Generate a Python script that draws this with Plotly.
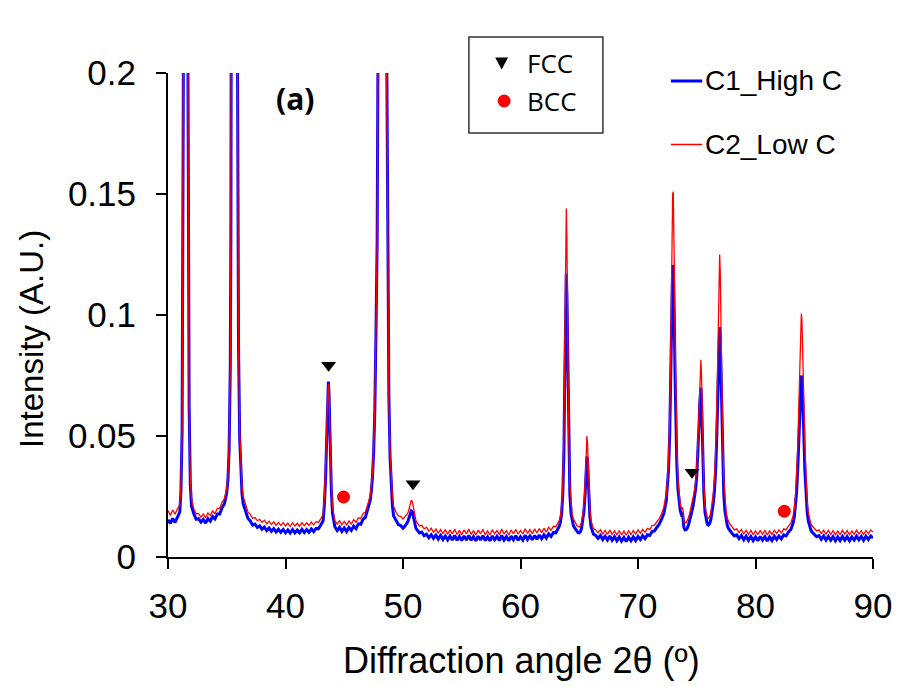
import plotly.graph_objects as go

# X-ray diffraction patterns of the two alloys (intensity normalised, A.U.)
two_theta = [
    30.0, 30.2, 30.4, 30.6, 30.8, 31.0,
    31.1, 31.2, 31.3, 31.35, 31.4, 31.45, 31.5, 31.55, 31.6, 31.65, 31.7, 31.8, 31.9, 32.0,
    32.2, 32.4, 32.6, 32.8, 33.0, 33.2, 33.4, 33.6, 33.8, 34.0, 34.2, 34.4, 34.6, 34.8, 35.0,
    35.1, 35.2, 35.3, 35.35, 35.4, 35.45, 35.5, 35.55, 35.6, 35.65, 35.7, 35.75, 35.8, 35.85, 35.9, 35.95, 36.0, 36.1, 36.2, 36.3, 36.4,
    36.6, 36.8, 37.0, 37.2, 37.4, 37.6, 37.8, 38.0, 38.2, 38.4, 38.6, 38.8, 39.0, 39.2, 39.4, 39.6, 39.8,
    40.0, 40.2, 40.4, 40.6, 40.8, 41.0, 41.2, 41.4, 41.6, 41.8, 42.0, 42.2, 42.4, 42.6, 42.8, 43.0,
    43.2, 43.3, 43.4, 43.5, 43.55, 43.6, 43.65, 43.7, 43.75, 43.8, 43.9, 44.0, 44.1,
    44.2, 44.4, 44.6, 44.8, 45.0, 45.2, 45.4, 45.6, 45.8, 46.0, 46.2, 46.4, 46.6, 46.8, 47.0, 47.2,
    47.3, 47.4, 47.5, 47.6, 47.7, 47.8, 47.9, 48.0, 48.1, 48.2, 48.3, 48.4, 48.5, 48.6, 48.7, 48.8, 48.9, 49.0, 49.1, 49.2,
    49.4, 49.6, 49.8, 50.0, 50.2, 50.4,
    50.5, 50.6, 50.7, 50.8, 50.9, 51.0, 51.1,
    51.2, 51.4, 51.6, 51.8, 52.0, 52.2, 52.4, 52.6, 52.8, 53.0, 53.2, 53.4, 53.6, 53.8, 54.0, 54.2, 54.4, 54.6, 54.8, 55.0,
    55.2, 55.4, 55.6, 55.8, 56.0, 56.2, 56.4, 56.6, 56.8, 57.0, 57.2, 57.4, 57.6, 57.8, 58.0, 58.2, 58.4, 58.6, 58.8, 59.0,
    59.2, 59.4, 59.6, 59.8, 60.0, 60.2, 60.4, 60.6, 60.8, 61.0, 61.2, 61.4, 61.6, 61.8, 62.0, 62.2, 62.4, 62.6, 62.8, 63.0, 63.2,
    63.3, 63.4, 63.5, 63.6, 63.65, 63.7, 63.75, 63.8, 63.85, 63.9, 63.95, 64.0, 64.1, 64.2, 64.3, 64.4, 64.5,
    64.6, 64.7, 64.8, 64.9, 65.0, 65.1, 65.2, 65.3,
    65.4, 65.5, 65.55, 65.6, 65.65, 65.7, 65.75, 65.8, 65.9, 66.0, 66.1, 66.2,
    66.4, 66.6, 66.8, 67.0, 67.2, 67.4, 67.6, 67.8, 68.0, 68.2, 68.4, 68.6, 68.8,
    69.0, 69.2, 69.4, 69.6, 69.8, 70.0, 70.2, 70.4, 70.6, 70.8, 71.0, 71.2, 71.4,
    71.6, 71.8, 72.0, 72.2, 72.4, 72.5, 72.6, 72.7, 72.8, 72.85, 72.9, 72.95, 73.0, 73.05, 73.1, 73.15, 73.2, 73.3, 73.4, 73.5, 73.6, 73.7, 73.8,
    73.9, 74.0, 74.1, 74.2, 74.3, 74.4, 74.5, 74.6, 74.7, 74.8, 74.9, 75.0, 75.1, 75.2,
    75.25, 75.3, 75.35, 75.4, 75.45, 75.5, 75.6, 75.7, 75.8, 75.9, 76.0, 76.1, 76.2, 76.3,
    76.4, 76.5, 76.6, 76.7, 76.8, 76.85, 76.9, 76.95, 77.0, 77.05, 77.1, 77.2, 77.3, 77.4, 77.5, 77.6, 77.7, 77.8,
    78.0, 78.2, 78.4, 78.6, 78.8, 79.0, 79.2, 79.4, 79.6, 79.8, 80.0, 80.2, 80.4,
    80.6, 80.8, 81.0, 81.2, 81.4, 81.6, 81.8, 82.0, 82.2, 82.4, 82.6, 82.8,
    83.0, 83.2, 83.3, 83.4, 83.5, 83.6, 83.7, 83.8, 83.85, 83.9, 83.95, 84.0, 84.1, 84.2, 84.3, 84.4, 84.5, 84.6, 84.7, 84.8,
    85.0, 85.2, 85.4, 85.6, 85.8, 86.0, 86.2, 86.4, 86.6, 86.8, 87.0, 87.2, 87.4,
    87.6, 87.8, 88.0, 88.2, 88.4, 88.6, 88.8, 89.0, 89.2, 89.4, 89.6, 89.8, 90.0,
]

c1_high_c = [
    0.0154, 0.0139, 0.0159, 0.0143, 0.0164, 0.0185,
    0.027, 0.052, 0.19, 0.33, 0.49, 0.61, 0.65, 0.60, 0.46, 0.33, 0.20, 0.062, 0.030, 0.021,
    0.0178, 0.0156, 0.0158, 0.0144, 0.0155, 0.0140, 0.0159, 0.0148, 0.0167, 0.0157, 0.0178, 0.0178, 0.0204, 0.0220, 0.0265,
    0.032, 0.044, 0.078, 0.13, 0.22, 0.40, 0.66, 0.89, 0.99, 1.0, 0.96, 0.81, 0.59, 0.39, 0.23, 0.14, 0.088, 0.049, 0.033, 0.026, 0.022,
    0.0185, 0.0160, 0.0149, 0.0132, 0.0136, 0.0122, 0.0129, 0.0115, 0.0124, 0.0109, 0.0120, 0.0106, 0.0117, 0.0103, 0.0115, 0.0102, 0.0114,
    0.0100, 0.0112, 0.0099, 0.0113, 0.0100, 0.0111, 0.0100, 0.0114, 0.0101, 0.0113, 0.0102, 0.0116, 0.0105, 0.0118, 0.0116, 0.0132,
    0.0150, 0.021, 0.031, 0.048, 0.060, 0.070, 0.0725, 0.068, 0.057, 0.045, 0.028, 0.018, 0.0145,
    0.0125, 0.0109, 0.0123, 0.0106, 0.0120, 0.0105, 0.0122, 0.0110, 0.0128, 0.0117, 0.0137, 0.0135, 0.0156, 0.0164, 0.0195, 0.0232,
    0.027, 0.033, 0.043, 0.060, 0.093, 0.13, 0.24, 0.52, 0.79, 0.93, 0.91, 0.73, 0.46, 0.22, 0.115, 0.066, 0.041, 0.028, 0.021, 0.017,
    0.0150, 0.0134, 0.0130, 0.0119, 0.0130, 0.0145,
    0.0160, 0.0180, 0.0190, 0.0186, 0.0160, 0.0132, 0.0118,
    0.0112, 0.0099, 0.0103, 0.0088, 0.0094, 0.0080, 0.0092, 0.0077, 0.0090, 0.0074, 0.0089, 0.0072, 0.0087, 0.0071, 0.0086, 0.0070, 0.0089, 0.0069, 0.0085, 0.0068,
    0.0087, 0.0070, 0.0089, 0.0069, 0.0084, 0.0067, 0.0086, 0.0070, 0.0088, 0.0068, 0.0083, 0.0067, 0.0087, 0.0071, 0.0085, 0.0068, 0.0089, 0.0070, 0.0084, 0.0067,
    0.0086, 0.0071, 0.0088, 0.0069, 0.0084, 0.0070, 0.0090, 0.0072, 0.0087, 0.0071, 0.0089, 0.0073, 0.0091, 0.0075, 0.0092, 0.0078, 0.0096, 0.0085, 0.0101, 0.0100, 0.0118,
    0.0127, 0.0145, 0.018, 0.026, 0.033, 0.045, 0.067, 0.092, 0.112, 0.117, 0.108, 0.086, 0.045, 0.026, 0.018, 0.0145, 0.0130,
    0.0121, 0.0113, 0.0106, 0.0101, 0.0100, 0.0105, 0.0120, 0.0148,
    0.019, 0.026, 0.032, 0.039, 0.0415, 0.040, 0.034, 0.027, 0.017, 0.0125, 0.0104, 0.0095,
    0.0089, 0.0077, 0.0089, 0.0072, 0.0086, 0.0070, 0.0087, 0.0069, 0.0084, 0.0067, 0.0083, 0.0066, 0.0081,
    0.0064, 0.0082, 0.0067, 0.0083, 0.0068, 0.0085, 0.0072, 0.0088, 0.0076, 0.0092, 0.0089, 0.0105, 0.0108,
    0.0122, 0.0135, 0.0155, 0.018, 0.023, 0.028, 0.036, 0.051, 0.076, 0.095, 0.112, 0.1205, 0.120, 0.112, 0.095, 0.076, 0.060, 0.039, 0.028, 0.022, 0.019, 0.0175, 0.0178,
    0.0123, 0.0112, 0.0113, 0.0120, 0.0133, 0.0150, 0.0170, 0.0192, 0.0215, 0.0242, 0.0280, 0.0335, 0.0420, 0.0550,
    0.0630, 0.0690, 0.0700, 0.0660, 0.0560, 0.0440, 0.0270, 0.0185, 0.0150, 0.0135, 0.0132, 0.0138, 0.0155, 0.0182,
    0.0220, 0.0270, 0.0350, 0.0490, 0.0690, 0.0810, 0.0910, 0.0950, 0.0900, 0.0780, 0.0630, 0.0400, 0.0260, 0.0190, 0.0152, 0.0130, 0.0118, 0.0110,
    0.0098, 0.0087, 0.0091, 0.0076, 0.0089, 0.0071, 0.0086, 0.0069, 0.0085, 0.0068, 0.0083, 0.0067, 0.0085,
    0.0069, 0.0084, 0.0066, 0.0083, 0.0068, 0.0086, 0.0072, 0.0087, 0.0075, 0.0091, 0.0087, 0.0103,
    0.0113, 0.0140, 0.0165, 0.0205, 0.0270, 0.0370, 0.0510, 0.0660, 0.0720, 0.0750, 0.0740, 0.0690, 0.0530, 0.0360, 0.0250, 0.0185, 0.0148, 0.0126, 0.0113, 0.0104,
    0.0095, 0.0084, 0.0088, 0.0073, 0.0087, 0.0070, 0.0085, 0.0069, 0.0084, 0.0067, 0.0083, 0.0068, 0.0085,
    0.0069, 0.0084, 0.0067, 0.0083, 0.0070, 0.0086, 0.0071, 0.0085, 0.0069, 0.0086, 0.0072, 0.0087, 0.0079,
]

c2_low_c = [
    0.0192, 0.0172, 0.0194, 0.0177, 0.0199, 0.0215,
    0.030, 0.055, 0.20, 0.34, 0.50, 0.62, 0.66, 0.60, 0.46, 0.32, 0.19, 0.060, 0.032, 0.024,
    0.0198, 0.0178, 0.0180, 0.0164, 0.0178, 0.0162, 0.0182, 0.0171, 0.0190, 0.0179, 0.0201, 0.0201, 0.0226, 0.0241, 0.0285,
    0.034, 0.046, 0.080, 0.13, 0.22, 0.40, 0.65, 0.88, 0.99, 1.0, 0.95, 0.80, 0.58, 0.38, 0.22, 0.14, 0.090, 0.052, 0.036, 0.029, 0.025,
    0.0212, 0.0186, 0.0176, 0.0160, 0.0163, 0.0150, 0.0156, 0.0143, 0.0152, 0.0137, 0.0148, 0.0134, 0.0145, 0.0131, 0.0143, 0.0130, 0.0142,
    0.0128, 0.0140, 0.0127, 0.0141, 0.0128, 0.0139, 0.0127, 0.0142, 0.0129, 0.0141, 0.0130, 0.0144, 0.0133, 0.0146, 0.0143, 0.0158,
    0.0175, 0.024, 0.034, 0.050, 0.061, 0.069, 0.0715, 0.067, 0.057, 0.046, 0.030, 0.021, 0.017,
    0.0150, 0.0136, 0.0150, 0.0133, 0.0147, 0.0132, 0.0149, 0.0136, 0.0154, 0.0143, 0.0162, 0.0159, 0.0179, 0.0186, 0.0215, 0.0250,
    0.029, 0.035, 0.045, 0.062, 0.095, 0.13, 0.24, 0.52, 0.78, 0.92, 0.90, 0.72, 0.45, 0.21, 0.11, 0.065, 0.043, 0.031, 0.025, 0.021,
    0.0185, 0.0170, 0.0168, 0.0157, 0.0167, 0.0180,
    0.0195, 0.0220, 0.0235, 0.0228, 0.0198, 0.0165, 0.0150,
    0.0142, 0.0128, 0.0131, 0.0116, 0.0123, 0.0107, 0.0119, 0.0102, 0.0116, 0.0099, 0.0114, 0.0096, 0.0113, 0.0094, 0.0112, 0.0095, 0.0115, 0.0093, 0.0110, 0.0092,
    0.0112, 0.0095, 0.0116, 0.0093, 0.0109, 0.0091, 0.0111, 0.0095, 0.0114, 0.0092, 0.0108, 0.0091, 0.0113, 0.0096, 0.0110, 0.0092, 0.0116, 0.0095, 0.0109, 0.0091,
    0.0112, 0.0096, 0.0114, 0.0094, 0.0110, 0.0095, 0.0117, 0.0097, 0.0113, 0.0096, 0.0116, 0.0099, 0.0118, 0.0100, 0.0119, 0.0103, 0.0123, 0.0110, 0.0127, 0.0125, 0.0142,
    0.0150, 0.0170, 0.021, 0.030, 0.038, 0.052, 0.080, 0.112, 0.137, 0.144, 0.131, 0.103, 0.052, 0.030, 0.021, 0.0175, 0.0158,
    0.0148, 0.0138, 0.0130, 0.0125, 0.0124, 0.0130, 0.0145, 0.0175,
    0.022, 0.030, 0.038, 0.046, 0.0500, 0.047, 0.039, 0.031, 0.020, 0.015, 0.0128, 0.0118,
    0.0112, 0.0100, 0.0113, 0.0095, 0.0110, 0.0093, 0.0111, 0.0094, 0.0108, 0.0092, 0.0109, 0.0091, 0.0107,
    0.0090, 0.0108, 0.0093, 0.0110, 0.0095, 0.0112, 0.0098, 0.0114, 0.0102, 0.0118, 0.0113, 0.0130, 0.0132,
    0.0145, 0.0158, 0.0178, 0.0205, 0.026, 0.031, 0.040, 0.058, 0.090, 0.115, 0.138, 0.150, 0.151, 0.140, 0.117, 0.092, 0.072, 0.046, 0.032, 0.025, 0.0215, 0.020, 0.0205,
    0.0150, 0.0140, 0.0142, 0.0150, 0.0163, 0.0180, 0.0200, 0.0222, 0.0245, 0.0272, 0.0310, 0.0370, 0.0470, 0.0620,
    0.0720, 0.0800, 0.0815, 0.0760, 0.0640, 0.0500, 0.0300, 0.0210, 0.0175, 0.0162, 0.0160, 0.0168, 0.0185, 0.0215,
    0.0260, 0.0320, 0.0420, 0.0600, 0.0880, 0.1050, 0.1200, 0.1250, 0.1180, 0.1000, 0.0800, 0.0500, 0.0320, 0.0230, 0.0185, 0.0160, 0.0146, 0.0138,
    0.0125, 0.0112, 0.0116, 0.0101, 0.0114, 0.0096, 0.0111, 0.0094, 0.0110, 0.0093, 0.0108, 0.0092, 0.0110,
    0.0094, 0.0109, 0.0091, 0.0108, 0.0093, 0.0111, 0.0097, 0.0112, 0.0100, 0.0116, 0.0112, 0.0128,
    0.0140, 0.0170, 0.0200, 0.0250, 0.0330, 0.0460, 0.0650, 0.0870, 0.0960, 0.1005, 0.0980, 0.0900, 0.0680, 0.0460, 0.0310, 0.0225, 0.0180, 0.0155, 0.0140, 0.0130,
    0.0120, 0.0108, 0.0112, 0.0097, 0.0111, 0.0094, 0.0110, 0.0093, 0.0109, 0.0092, 0.0108, 0.0093, 0.0110,
    0.0094, 0.0109, 0.0092, 0.0108, 0.0094, 0.0111, 0.0095, 0.0109, 0.0093, 0.0110, 0.0096, 0.0112, 0.0103,
]

# Phase markers placed above the reflections they identify
fcc_angle = [43.67, 50.85, 74.6]
fcc_level = [0.0792, 0.0303, 0.035]
bcc_angle = [44.94, 82.45]
bcc_level = [0.0248, 0.0189]

x_ticks = [30, 40, 50, 60, 70, 80, 90]
y_ticks = [0, 0.05, 0.1, 0.15, 0.2]
y_tick_text = ["0", "0.05", "0.1", "0.15", "0.2"]

W, H = 904, 686
L, R, T, B = 168, 878, 73, 557  # plot area in pixels


def px(x, y):
    """Pixel position on the page -> paper coordinates."""
    return (x - L) / (R - L), (B - y) / (B - T)


ARIAL = "Liberation Sans, Arial, sans-serif"
SANS = "Open Sans, Lato, sans-serif"

fig = go.Figure()
fig.add_trace(go.Scatter(x=two_theta, y=c1_high_c, mode="lines", name="C1_High C",
                         line=dict(color="#0000FF", width=3), showlegend=False))
fig.add_trace(go.Scatter(x=two_theta, y=c2_low_c, mode="lines", name="C2_Low C",
                         line=dict(color="#FF0000", width=1.3), showlegend=False))
fig.add_trace(go.Scatter(x=fcc_angle, y=fcc_level, mode="markers", name="FCC",
                         marker=dict(symbol="triangle-down", size=13, color="black"),
                         showlegend=False))
fig.add_trace(go.Scatter(x=bcc_angle, y=bcc_level, mode="markers", name="BCC",
                         marker=dict(symbol="circle", size=13, color="#FF0000"),
                         showlegend=False))

shapes = []
annotations = []

# Phase key (boxed)
bx0, by0 = px(471, 37)
bx1, by1 = px(606, 133)
shapes.append(dict(type="rect", xref="paper", yref="paper", x0=bx0, x1=bx1, y0=by1, y1=by0,
                   line=dict(color="#333333", width=1.5), fillcolor="white"))
t1, t2, t3 = px(497.5, 57.5), px(510.5, 57.5), px(504, 69.5)
shapes.append(dict(type="path", xref="paper", yref="paper",
                   path=f"M {t1[0]} {t1[1]} L {t2[0]} {t2[1]} L {t3[0]} {t3[1]} Z",
                   fillcolor="black", line=dict(color="black", width=0)))
c0, c1 = px(500, 94.5), px(513, 107.5)
shapes.append(dict(type="circle", xref="paper", yref="paper", x0=c0[0], x1=c1[0], y0=c1[1], y1=c0[1],
                   fillcolor="#FF0000", line=dict(color="#FF0000", width=0)))
for label, yy in [("FCC", 63), ("BCC", 101)]:
    ax, ay = px(528, yy)
    annotations.append(dict(x=ax, y=ay, xref="paper", yref="paper", text=label, showarrow=False,
                            xanchor="left", yanchor="middle", font=dict(family=SANS, size=26, color="black")))

# Series key
for label, yy, color, width in [("C1_High C", 81, "#0000FF", 3), ("C2_Low C", 144.5, "#FF0000", 1.3)]:
    lx0, ly = px(674.5, yy)
    lx1, _ = px(706, yy)
    shapes.append(dict(type="line", xref="paper", yref="paper", x0=lx0, x1=lx1, y0=ly, y1=ly,
                       line=dict(color=color, width=width)))
    tx, ty = px(707, yy)
    annotations.append(dict(x=tx, y=ty, xref="paper", yref="paper", text=label, showarrow=False,
                            xanchor="left", yanchor="middle", font=dict(family=ARIAL, size=28, color="black")))

# Panel label
ax, ay = px(296, 98)
annotations.append(dict(x=ax, y=ay, xref="paper", yref="paper", text="<b>(a)</b>", showarrow=False,
                        xanchor="center", yanchor="middle", font=dict(family=SANS, size=30, color="black")))

# Axis titles
ax, ay = px(524.5, 660)
annotations.append(dict(x=ax, y=ay, xref="paper", yref="paper", text="Diffraction angle 2θ (º)",
                        showarrow=False, xanchor="center", yanchor="middle",
                        font=dict(family=ARIAL, size=36, color="black")))
ax, ay = px(30, 339)
annotations.append(dict(x=ax, y=ay, xref="paper", yref="paper", text="Intensity (A.U.)", textangle=-90,
                        showarrow=False, xanchor="center", yanchor="middle",
                        font=dict(family=ARIAL, size=33, color="black")))

fig.update_layout(
    width=W, height=H,
    margin=dict(l=L, r=W - R, t=T, b=H - B),
    paper_bgcolor="white", plot_bgcolor="white",
    shapes=shapes, annotations=annotations,
    showlegend=False,
)
fig.update_xaxes(range=[30, 90], tickvals=x_ticks, ticks="outside", ticklen=10, tickwidth=2,
                 tickcolor="black", showline=True, linecolor="black", linewidth=2,
                 showgrid=False, zeroline=False, ticklabelstandoff=7,
                 tickfont=dict(family=ARIAL, size=35, color="black"))
fig.update_yaxes(range=[0, 0.2], tickvals=y_ticks, ticktext=y_tick_text, ticks="outside", ticklen=10,
                 tickwidth=2, tickcolor="black", showline=True, linecolor="black", linewidth=2,
                 showgrid=False, zeroline=False, ticklabelstandoff=13,
                 tickfont=dict(family=ARIAL, size=35, color="black"))

fig.write_html("out.html")
